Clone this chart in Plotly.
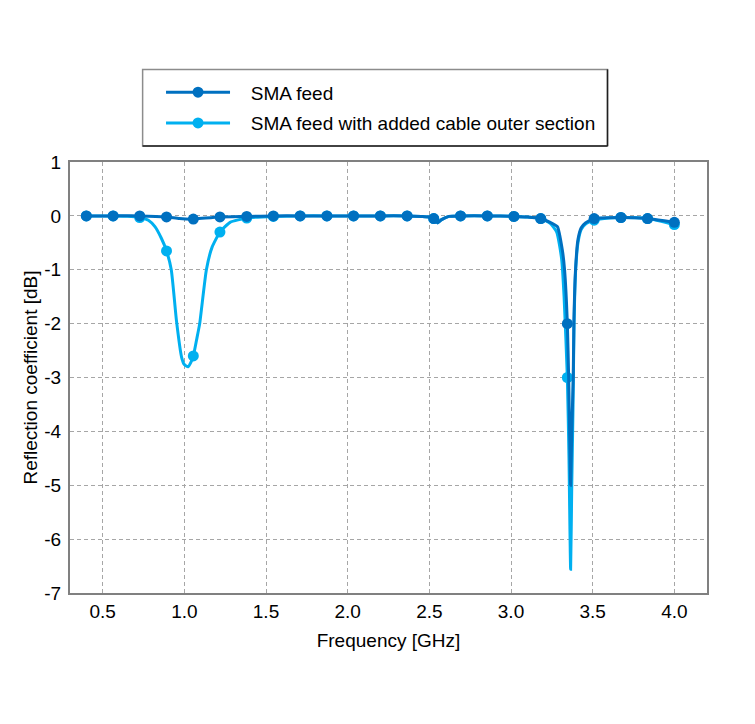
import plotly.graph_objects as go

# ---- data ----
marker_freq = [0.4, 0.564, 0.727, 0.891, 1.055, 1.218, 1.382, 1.545, 1.709, 1.873, 2.036, 2.2,
               2.364, 2.527, 2.691, 2.855, 3.018, 3.182, 3.345, 3.509, 3.673, 3.836, 4.0]
sma_marker_db = [0, 0, 0, -0.02, -0.06, -0.02, -0.01, 0, 0, 0, 0, 0,
                 0, -0.05, 0, 0, -0.01, -0.05, -2.0, -0.05, -0.03, -0.05, -0.12]
cable_marker_db = [0, 0, -0.03, -0.65, -2.6, -0.3, -0.04, -0.01, 0, 0, 0, 0,
                   0, -0.05, 0, 0, -0.01, -0.05, -3.0, -0.08, -0.03, -0.05, -0.16]

sma_curve_freq = [0.4, 0.564, 0.727, 0.891, 0.97, 1.055, 1.13, 1.218, 1.382, 1.545, 1.709, 1.873,
                  2.036, 2.2, 2.364, 2.45, 2.5, 2.527, 2.55, 2.575, 2.62, 2.691, 2.855, 3.018,
                  3.1, 3.182, 3.24, 3.284, 3.314, 3.328, 3.345, 3.353, 3.36, 3.365, 3.372,
                  3.381, 3.385, 3.395, 3.41, 3.43, 3.456, 3.509, 3.673, 3.836, 4.0]
sma_curve_db = [0, 0, 0, -0.02, -0.05, -0.06, -0.04, -0.02, -0.01, 0, 0, 0,
                0, 0, 0, -0.01, -0.02, -0.05, -0.13, -0.07, -0.01, 0, 0, -0.01,
                -0.02, -0.05, -0.12, -0.2, -0.63, -1.0, -2.0, -3.0, -4.2, -5.0, -4.0,
                -3.0, -2.0, -1.0, -0.44, -0.22, -0.13, -0.05, -0.03, -0.05, -0.12]

cable_curve_freq = [0.4, 0.564, 0.65, 0.727, 0.78, 0.82, 0.86, 0.891, 0.92, 0.952, 0.983, 1.0,
                    1.023, 1.04, 1.055, 1.075, 1.094, 1.135, 1.17, 1.218, 1.28, 1.382, 1.545,
                    1.709, 1.873, 2.036, 2.2, 2.364, 2.45, 2.5, 2.527, 2.55, 2.575, 2.62, 2.691,
                    2.855, 3.018, 3.1, 3.182, 3.24, 3.28, 3.31, 3.325, 3.345, 3.355, 3.365,
                    3.372, 3.38, 3.386, 3.396, 3.41, 3.43, 3.46, 3.509, 3.6, 3.673, 3.836, 4.0]
cable_curve_db = [0, 0, -0.005, -0.03, -0.08, -0.2, -0.42, -0.65, -1.0, -1.95, -2.62, -2.76,
                  -2.8, -2.72, -2.6, -2.3, -2.0, -1.0, -0.58, -0.3, -0.12, -0.04, -0.01,
                  0, 0, 0, 0, 0, -0.01, -0.02, -0.05, -0.13, -0.07, -0.01, 0,
                  0, -0.01, -0.02, -0.05, -0.14, -0.3, -0.8, -1.5, -3.0, -4.5, -6.56,
                  -5.0, -3.5, -2.0, -1.0, -0.5, -0.25, -0.14, -0.08, -0.04, -0.03, -0.05, -0.16]

x_ticks = [0.5, 1.0, 1.5, 2.0, 2.5, 3.0, 3.5, 4.0]
x_tick_labels = ["0.5", "1.0", "1.5", "2.0", "2.5", "3.0", "3.5", "4.0"]
y_ticks = [1, 0, -1, -2, -3, -4, -5, -6, -7]
y_tick_labels = ["1", "0", "-1", "-2", "-3", "-4", "-5", "-6", "-7"]

series_names = ["SMA feed", "SMA feed with added cable outer section"]
colors = ["#0070C0", "#00B0F0"]

FONT = "Liberation Sans, Arial, sans-serif"
FS = 19
PAD = "\u00a0\u00a0\u00a0"  # gap between legend symbol and label

fig = go.Figure()

# light series first (drawn underneath)
fig.add_trace(go.Scatter(x=cable_curve_freq, y=cable_curve_db, mode="lines",
                         line=dict(color=colors[1], width=3, shape="spline", smoothing=0.5),
                         showlegend=False, hoverinfo="skip"))
fig.add_trace(go.Scatter(x=marker_freq, y=cable_marker_db, mode="markers",
                         marker=dict(color=colors[1], size=11),
                         showlegend=False))
fig.add_trace(go.Scatter(x=sma_curve_freq, y=sma_curve_db, mode="lines",
                         line=dict(color=colors[0], width=3, shape="spline", smoothing=0.5),
                         showlegend=False, hoverinfo="skip"))
fig.add_trace(go.Scatter(x=marker_freq, y=sma_marker_db, mode="markers",
                         marker=dict(color=colors[0], size=11),
                         showlegend=False))

# legend entries
for i, (name, c) in enumerate(zip(series_names, colors)):
    fig.add_trace(go.Scatter(x=[None], y=[None], mode="lines+markers", name=PAD + name,
                             line=dict(color=c, width=3), marker=dict(color=c, size=11),
                             legendgroup=f"g{i}", legendrank=i + 1))

axis_common = dict(
    showline=True, linecolor="#808080", linewidth=2, mirror=True,
    showgrid=True, gridcolor="#A6A6A6", griddash="4px,3px", gridwidth=1,
    zeroline=False, ticks="",
    tickfont=dict(family=FONT, size=FS, color="black"),
)

fig.update_layout(
    width=755, height=724,
    paper_bgcolor="white", plot_bgcolor="white",
    margin=dict(l=62, r=56, t=154, b=139),
    font=dict(family=FONT, size=FS, color="black"),
    xaxis=dict(range=[0.3, 4.2], tickvals=x_ticks, ticktext=x_tick_labels, ticklabelstandoff=0,
               title=dict(text="Frequency [GHz]", font=dict(size=FS), standoff=13),
               **axis_common),
    yaxis=dict(range=[-7, 1], tickvals=y_ticks, ticktext=y_tick_labels, ticklabelstandoff=3,
               title=dict(text="Reflection coefficient [dB]", font=dict(size=FS), standoff=2),
               **axis_common),
    legend=dict(x=0.1429, y=1.2057, xanchor="left", yanchor="top",
                borderwidth=0, bgcolor="rgba(0,0,0,0)",
                font=dict(family=FONT, size=FS, color="black"),
                itemwidth=64, tracegroupgap=3, traceorder="grouped"),
    showlegend=True,
    shapes=[
        dict(type="rect", xref="paper", yref="paper", x0=0.114, x1=0.8438, y0=1.0371, y1=1.2149,
             line=dict(color="#8C8C8C", width=1.5), fillcolor="white", layer="below"),
        dict(type="line", xref="paper", yref="paper", x0=0.114, x1=0.8438, y0=1.0371, y1=1.0371,
             line=dict(color="#202020", width=1.5)),
        dict(type="line", xref="paper", yref="paper", x0=0.8438, x1=0.8438, y0=1.0371, y1=1.2149,
             line=dict(color="#202020", width=1.5)),
    ],
)

fig.write_html("out.html")
